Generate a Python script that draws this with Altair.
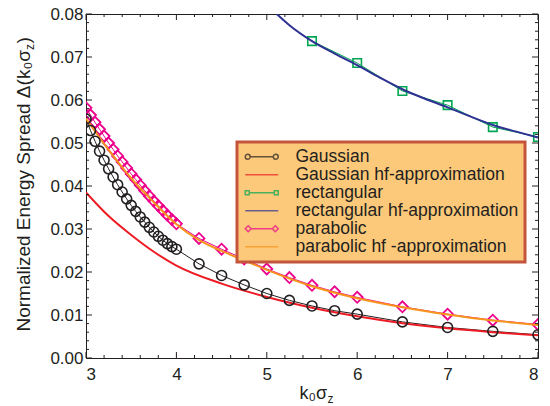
import altair as alt
import pandas as pd

# ---------------- data ----------------
names = ["Gaussian", "Gaussian hf-approximation", "rectangular",
         "rectangular hf-approximation", "parabolic", "parabolic hf -approximation"]
colors = ["#231F20", "#ED1C24", "#00A651", "#2E3192", "#EC008C", "#F7941D"]

gauss_x = [3.00, 3.05, 3.10, 3.15, 3.20, 3.25, 3.30, 3.35, 3.40, 3.45, 3.50,
           3.55, 3.60, 3.65, 3.70, 3.75, 3.80, 3.85, 3.90, 3.95, 4.00,
           4.25, 4.50, 4.75, 5.00, 5.25, 5.50, 5.75, 6.00, 6.50, 7.00, 7.50, 8.00]
gauss_y = [0.0556, 0.0529, 0.0504, 0.0481, 0.0460, 0.0440, 0.0421, 0.0403, 0.0386, 0.0370, 0.0355,
           0.0341, 0.0328, 0.0316, 0.0304, 0.0293, 0.0283, 0.0274, 0.0266, 0.0259, 0.0253,
           0.0219, 0.0192, 0.0170, 0.0150, 0.0134, 0.0121, 0.0110, 0.0102, 0.0084, 0.0071, 0.0062, 0.0054]

gauss_hf_x = [3.0, 3.25, 3.5, 3.75, 4.0, 4.5, 5.0, 5.5, 6.0, 6.5, 7.0, 7.5, 8.0]
gauss_hf_y = [0.0385, 0.0330, 0.0286, 0.0247, 0.0215, 0.0173, 0.0142, 0.0117, 0.0097, 0.0081, 0.0069, 0.0060, 0.0053]

rect_x = [5.5, 6.0, 6.5, 7.0, 7.5, 8.0]
rect_y = [0.0737, 0.0686, 0.0621, 0.0588, 0.0537, 0.0514]

rect_hf_x = [5.11, 5.25, 5.5, 5.75, 6.0, 6.25, 6.5, 6.75, 7.0, 7.25, 7.5, 7.75, 8.0]
rect_hf_y = [0.0800, 0.0774, 0.0737, 0.0708, 0.0681, 0.0652, 0.0625, 0.0603, 0.0583, 0.0562, 0.0542, 0.0527, 0.0513]

para_x = gauss_x
para_y = [0.0582, 0.0565, 0.0548, 0.0532, 0.0516, 0.0500, 0.0485, 0.0470, 0.0456, 0.0442, 0.0428,
          0.0415, 0.0402, 0.0389, 0.0377, 0.0365, 0.0354, 0.0343, 0.0332, 0.0322, 0.0312,
          0.0278, 0.0253, 0.0230, 0.0207, 0.0187, 0.0169, 0.0154, 0.0141, 0.0119, 0.0102, 0.0088, 0.0078]

para_hf_x = [3.0, 3.25, 3.5, 3.75, 4.0, 4.25, 4.5, 4.75, 5.0, 5.5, 6.0, 6.5, 7.0, 7.5, 8.0]
para_hf_y = [0.0557, 0.0484, 0.0418, 0.0362, 0.0311, 0.0274, 0.0249, 0.0227, 0.0205, 0.0167, 0.0139, 0.0118, 0.0101, 0.0087, 0.0077]

x_major = [3, 4, 5, 6, 7, 8]
x_minor = [round(3 + 0.2 * i, 1) for i in range(26) if i % 5]
y_major = [0.0, 0.01, 0.02, 0.03, 0.04, 0.05, 0.06, 0.07, 0.08]
y_minor = [round(0.002 * i, 3) for i in range(41) if i % 5]

# ---------------- style ----------------
FONT = "Liberation Sans"
INK = "#231F20"
W, H = 452, 344


def df(xs, ys):
    return pd.DataFrame({"x": xs, "y": ys})


xs = alt.Scale(domain=[3, 8], nice=False, zero=False)
ys = alt.Scale(domain=[0, 0.08], nice=False, zero=False)

# legend symbols: unit = sqrt(symbolSize)/2 px; symbol spans -K..K units
K = 2.2


def seg(a, b):
    return f"M{a*K:.3f},0L{b*K:.3f},0"


def circle_at(cx, rr):
    return (f"M{(cx + rr)*K:.3f},0A{rr*K:.3f},{rr*K:.3f},0,1,1,{(cx - rr)*K:.3f},0"
            f"A{rr*K:.3f},{rr*K:.3f},0,1,1,{(cx + rr)*K:.3f},0")


def square_at(cx, h):
    return (f"M{(cx - h)*K:.3f},{-h*K:.3f}L{(cx + h)*K:.3f},{-h*K:.3f}"
            f"L{(cx + h)*K:.3f},{h*K:.3f}L{(cx - h)*K:.3f},{h*K:.3f}Z")


def diamond_at(cx, h):
    return (f"M{cx*K:.3f},{-h*K:.3f}L{(cx + h)*K:.3f},0L{cx*K:.3f},{h*K:.3f}L{(cx - h)*K:.3f},0Z")


r = 0.15
circ = seg(-1 + 2 * r, 1 - 2 * r) + circle_at(-1 + r, r) + circle_at(1 - r, r)
s = 0.12
sq = seg(-1 + 2 * s, 1 - 2 * s) + square_at(-1 + s, s) + square_at(1 - s, s)
d = 0.18
dia = seg(-1 + 2 * d, 1 - 2 * d) + diamond_at(-1 + d, d) + diamond_at(1 - d, d)
line_sym = seg(-1, 1)
shapes = [circ, line_sym, sq, line_sym, dia, line_sym]

common = dict(grid=False, labelFont=FONT, labelFontSize=17, labelColor=INK, title=None,
              ticks=False, domain=False, labelOverlap=False)
ax_x = alt.Axis(values=x_major, labelPadding=8, format=".0f", **common)
ax_y = alt.Axis(values=y_major, labelPadding=3, format=".2f", **common)


# ---------------- layers ----------------
def enc(chart, ax=None, ay=None):
    return chart.encode(x=alt.X("x:Q", scale=xs, axis=ax), y=alt.Y("y:Q", scale=ys, axis=ay))


g_line = enc(alt.Chart(df(gauss_x, gauss_y)).mark_line(color=colors[0], strokeWidth=1, clip=True), ax_x, ax_y)
g_pts = enc(alt.Chart(df(gauss_x, gauss_y)).mark_point(shape="circle", filled=False, color=colors[0],
                                                       size=100, strokeWidth=1.6, opacity=1, clip=True))
r_line = enc(alt.Chart(df(rect_x, rect_y)).mark_line(color=colors[2], strokeWidth=1, clip=True))
r_pts = enc(alt.Chart(df(rect_x, rect_y)).mark_point(shape="square", filled=False, color=colors[2],
                                                     size=72, strokeWidth=1.6, opacity=1, clip=True))
p_line = enc(alt.Chart(df(para_x, para_y)).mark_line(color=colors[4], strokeWidth=1, clip=True))
p_pts = enc(alt.Chart(df(para_x, para_y)).mark_point(shape="diamond", filled=False, color=colors[4],
                                                     size=120, strokeWidth=1.8, opacity=1, clip=True))


def hf(xv, yv, c):
    return enc(alt.Chart(df(xv, yv)).mark_line(color=c, strokeWidth=2, interpolate="monotone", clip=True))


gh = hf(gauss_hf_x, gauss_hf_y, colors[1])
rh = hf(rect_hf_x, rect_hf_y, colors[3])
ph = hf(para_hf_x, para_hf_y, colors[5])


# inward frame ticks on all four sides, placed through the scales
def xticks(vals, ln):
    base = alt.Chart(pd.DataFrame({"x": vals})).mark_rule(color=INK, strokeWidth=1)
    xe = alt.X("x:Q", scale=xs, axis=None)
    return [base.encode(x=xe, y=alt.value(H), y2=alt.value(H - ln)),
            base.encode(x=xe, y=alt.value(0), y2=alt.value(ln))]


def yticks(vals, ln):
    base = alt.Chart(pd.DataFrame({"y": vals})).mark_rule(color=INK, strokeWidth=1)
    ye = alt.Y("y:Q", scale=ys, axis=None)
    return [base.encode(y=ye, x=alt.value(0), x2=alt.value(ln)),
            base.encode(y=ye, x=alt.value(W), x2=alt.value(W - ln))]


tick_layers = xticks(x_major, 6) + xticks(x_minor, 3) + yticks(y_major, 6) + yticks(y_minor, 3)

# legend carrier (empty data, scales with explicit domains)
leg_spec = dict(title=None, orient="none", legendX=151, legendY=128,
                fillColor="#FCC879", strokeColor="#C4553C", padding=6,
                labelFont=FONT, labelFontSize=17.5, labelColor=INK, labelLimit=400,
                labelOffset=25, symbolSize=225, symbolStrokeWidth=1.5,
                rowPadding=-2.2, symbolOffset=10)
leg_df = pd.DataFrame({"x": [3.0] * 6, "y": [0.0] * 6, "series": names})
legend_layer = alt.Chart(leg_df).transform_filter("datum.x > 100").mark_point(filled=False).encode(
    x=alt.X("x:Q", scale=xs, axis=None),
    y=alt.Y("y:Q", scale=ys, axis=None),
    color=alt.Color("series:N", scale=alt.Scale(domain=names, range=colors), sort=names,
                    legend=alt.Legend(**leg_spec)),
    shape=alt.Shape("series:N", scale=alt.Scale(domain=names, range=shapes), sort=names,
                    legend=alt.Legend(**leg_spec)),
)

# axis titles with sub-scripts
one = pd.DataFrame({"t": [0]})


def txt(text, x, y, size, align="left", angle=0):
    kw = dict(text=text, font=FONT, fontSize=size, color=INK, align=align, baseline="alphabetic")
    if angle:
        kw["angle"] = angle
    return alt.Chart(one).mark_text(**kw).encode(x=alt.value(x), y=alt.value(y))


xt1 = txt("k\u2080\u03c3", 241, 385, 18, align="right")
xt2 = txt("z", 241.5, 389, 12)
yt1 = txt("Normalized Energy Spread \u0394(k\u2080\u03c3", -56, 36, 19, align="right", angle=270)
yt2 = txt("z", -52, 36, 12, align="left", angle=270)
yt3 = txt(")", -56, 29.5, 19, align="left", angle=270)

chart = alt.layer(
    g_line, gh, r_line, r_pts, rh, p_line, p_pts, ph, g_pts, *tick_layers, legend_layer,
    xt1, xt2, yt1, yt2, yt3
).resolve_axis(x="independent", y="independent").properties(
    width=W, height=H,
    autosize=alt.AutoSizeParams(type="none"),
    padding={"left": 86, "top": 14, "right": 12, "bottom": 48},
).configure_view(stroke=INK, strokeWidth=1).configure_legend(strokeWidth=3)

chart.save("out.html", embed_options={"renderer": "svg", "actions": False})
